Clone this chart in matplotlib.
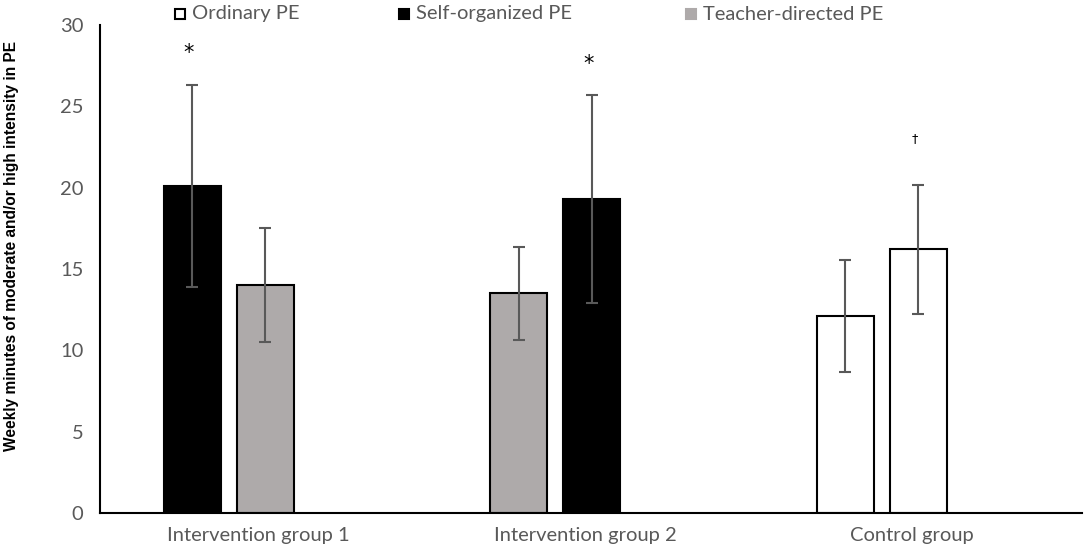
import matplotlib
matplotlib.use('Agg')
import matplotlib.pyplot as plt
from matplotlib.patches import Rectangle
import numpy as np

# groups on the x axis
groups = ['Intervention group 1', 'Intervention group 2', 'Control group']

# each group has two bars (left, right) with a PE type
left_types = ['Self-organized PE', 'Teacher-directed PE', 'Ordinary PE']
left_means = [20.1, 13.5, 12.1]
left_errs = [6.2, 2.85, 3.45]

right_types = ['Teacher-directed PE', 'Self-organized PE', 'Ordinary PE']
right_means = [14.0, 19.3, 16.2]
right_errs = [3.5, 6.4, 3.95]

# significance marks (text, group, which bar, y value)
sig_marks = [('*', 0, 'left', 28.3), ('*', 1, 'right', 27.6), ('\u2020', 2, 'right', 23.0)]

pe_types = ['Ordinary PE', 'Self-organized PE', 'Teacher-directed PE']
fills = {'Ordinary PE': 'white', 'Self-organized PE': 'black', 'Teacher-directed PE': '#aeaaaa'}

font = 'Lato'
tick_color = '#595959'
err_color = '#595959'

fig = plt.figure(figsize=(10.84, 5.5), dpi=100)
ax = fig.add_axes([100 / 1084, 37 / 550, 982 / 1084, 488 / 550])

x = np.arange(len(groups))
width = 0.1746
offset = 0.1118
label_shift = 0.092  # category labels sit a bit right of the bar pairs (empty slot in each group)

for i in range(len(groups)):
    for types, means, errs, sign in [(left_types, left_means, left_errs, -1),
                                     (right_types, right_means, right_errs, 1)]:
        xpos = x[i] + sign * offset
        ax.bar(xpos, means[i], width=width, color=fills[types[i]], edgecolor='black', linewidth=1.5, zorder=2)
        ax.errorbar(xpos, means[i], yerr=errs[i], fmt='none', ecolor=err_color, elinewidth=1.5,
                    capsize=4, capthick=1.5, zorder=3)

for mark, gi, side, yv in sig_marks:
    xpos = x[gi] + (-offset if side == 'left' else offset) - 0.01
    size = 15 if mark == '*' else 9
    ax.text(xpos, yv, mark, ha='center', va='center', fontsize=size, family='DejaVu Sans', color='black')

ax.set_xlim(-0.394, 2.613)
ax.set_ylim(0, 30)
ax.set_yticks(np.arange(0, 31, 5))
ax.set_xticks(x + label_shift)
ax.set_xticklabels(groups)
ax.tick_params(axis='both', length=0, labelsize=14.5, labelcolor=tick_color)
ax.tick_params(axis='y', pad=12)
ax.tick_params(axis='x', pad=10)
for lab in ax.get_xticklabels() + ax.get_yticklabels():
    lab.set_family(font)

for s in ['top', 'right']:
    ax.spines[s].set_visible(False)
for s in ['left', 'bottom']:
    ax.spines[s].set_color('black')
    ax.spines[s].set_linewidth(1.5)

fig.text(12 / 1084, 1 - 246 / 550, 'Weekly minutes of moderate and/or high intensity in PE', rotation=90,
         ha='center', va='center', fontsize=11.2, fontweight='bold', family='Liberation Sans')

# legend along the top
legend_x = [175, 399, 686]
for lx, t in zip(legend_x, pe_types):
    edge = 'black' if t != 'Teacher-directed PE' else fills[t]
    fig.patches.append(Rectangle((lx / 1084, 1 - 19 / 550), 10 / 1084, 10 / 550, transform=fig.transFigure,
                                 facecolor=fills[t], edgecolor=edge, linewidth=1.5))
    fig.text((lx + 17) / 1084, 1 - 14 / 550, t, ha='left', va='center', fontsize=14.5, family=font,
             color=tick_color)

fig.savefig('out.png', dpi=100)
